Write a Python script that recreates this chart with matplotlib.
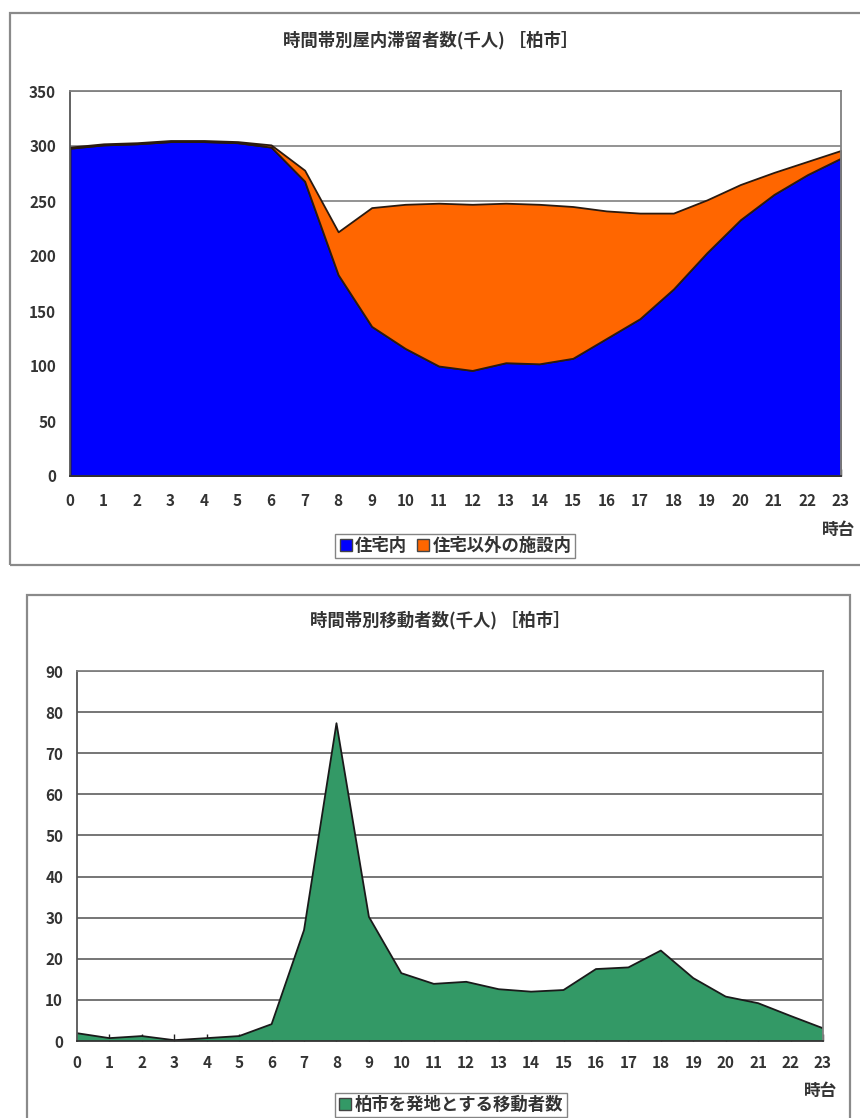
import matplotlib
matplotlib.use("Agg")
import matplotlib.pyplot as plt
from matplotlib.patches import Rectangle
from matplotlib.lines import Line2D

plt.rcParams['font.family'] = ['Noto Sans CJK JP', 'DejaVu Sans']

# ---- data ----
hours = list(range(24))
hour_labels = [str(h) for h in hours]

# indoor population by hour (thousand people)
at_home = [298, 301, 302, 304, 304, 303, 299, 268, 183, 136, 116, 100,
           96, 103, 102, 107, 125, 143, 170, 203, 233, 256, 274, 289]
other_facilities = [1, 1, 1, 1, 1, 1, 2, 10, 39, 108, 131, 148,
                    151, 145, 145, 138, 116, 96, 69, 48, 32, 20, 12, 7]

# people travelling from Kashiwa by hour (thousand people)
travellers = [1.9, 0.7, 1.2, 0.2, 0.7, 1.2, 4.1, 27.0, 77.3, 30.2, 16.5, 13.9,
              14.4, 12.6, 12.0, 12.4, 17.5, 17.9, 22.0, 15.3, 10.8, 9.2, 6.1, 3.1]

title_top = "時間帯別屋内滞留者数(千人) ［柏市］"
title_bottom = "時間帯別移動者数(千人) ［柏市］"
legend_top = ["住宅内", "住宅以外の施設内"]
legend_bottom = ["柏市を発地とする移動者数"]
xunit = "時台"

top_ticks = list(range(0, 351, 50))
bottom_ticks = list(range(0, 91, 10))

# ---- styling ----
W, H = 860, 1118
BLUE = "#0000FF"
ORANGE = "#FF6600"
GREEN = "#339966"
TXT = "#333333"
GRID = "#808080"
TICK_FS = 11
LABEL_FS = 12

fig = plt.figure(figsize=(W / 100, H / 100), dpi=100)
fig.patch.set_facecolor("white")


def px_axes(left, top, right, bottom):
    return fig.add_axes([left / W, 1 - bottom / H, (right - left) / W, (bottom - top) / H])


def panel(left, top, right, bottom):
    fig.patches.append(Rectangle((left / W, 1 - bottom / H), (right - left) / W,
                                 (bottom - top) / H, transform=fig.transFigure,
                                 fill=False, edgecolor="#8a8a8a", lw=1.6, zorder=0))


def style_axes(ax, yticks, xpad):
    ax.set_xlim(0, 23)
    ax.set_ylim(yticks[0], yticks[-1])
    ax.set_xticks(hours)
    ax.set_xticklabels(hour_labels)
    ax.set_yticks(yticks)
    ax.set_axisbelow(True)
    ax.yaxis.grid(True, color=GRID, lw=1.2)
    ax.tick_params(axis="x", direction="in", length=5, width=1, color="#222222",
                   pad=xpad, labelsize=TICK_FS, labelcolor=TXT)
    ax.tick_params(axis="y", length=0, pad=10, labelsize=TICK_FS, labelcolor=TXT)
    for lab in ax.get_xticklabels() + ax.get_yticklabels():
        lab.set_fontweight("bold")
    ax.spines["left"].set_color("#555555")
    ax.spines["bottom"].set_color("#333333")
    ax.spines["top"].set_color(GRID)
    ax.spines["right"].set_color(GRID)
    for s in ax.spines.values():
        s.set_linewidth(1.3)
        s.set_zorder(5)


# ---- top chart ----
panel(10, 13, 875, 565)
ax1 = px_axes(70, 91, 841, 476)
ax1.stackplot(hours, at_home, other_facilities, colors=[BLUE, ORANGE],
              edgecolor="#2a1a10", linewidth=1.3, zorder=2)
style_axes(ax1, top_ticks, 12)
fig.text(431 / W, 1 - 40 / H, title_top, ha="center", va="center",
         fontsize=12.5, fontweight="bold", color=TXT)
fig.text(839 / W, 1 - 530 / H, xunit, ha="center", va="center",
         fontsize=LABEL_FS, fontweight="bold", color=TXT)
h_top = [Line2D([], [], marker="s", ls="", markersize=9, markerfacecolor=c,
                markeredgecolor="#444444") for c in (BLUE, ORANGE)]
leg1 = fig.legend(h_top, legend_top, loc="center", bbox_to_anchor=(455 / W, 1 - 546 / H),
                  ncol=2, frameon=True, fancybox=False, edgecolor="#666666",
                  handlelength=0.8, handletextpad=0.15, columnspacing=0.5,
                  borderpad=0.2, prop={"size": 12.5, "weight": "bold"})
for t in leg1.get_texts():
    t.set_color(TXT)

# ---- bottom chart ----
panel(27, 595, 850, 1130)
ax2 = px_axes(77, 671, 823, 1041)
ax2.fill_between(hours, travellers, 0, color=GREEN, edgecolor="none", zorder=2)
ax2.plot(hours, travellers, color="#1a1a1a", lw=1.3, zorder=3)
style_axes(ax2, bottom_ticks, 10)
ax2.yaxis.grid(True, color="#6a6a6a", lw=1.3)
fig.text(440 / W, 1 - 620 / H, title_bottom, ha="center", va="center",
         fontsize=12.5, fontweight="bold", color=TXT)
fig.text(821 / W, 1 - 1091 / H, xunit, ha="center", va="center",
         fontsize=LABEL_FS, fontweight="bold", color=TXT)
h_bot = [Line2D([], [], marker="s", ls="", markersize=9, markerfacecolor=GREEN,
                markeredgecolor="#444444")]
leg2 = fig.legend(h_bot, legend_bottom, loc="center", bbox_to_anchor=(451 / W, 1 - 1105 / H),
                  frameon=True, fancybox=False, edgecolor="#666666",
                  handlelength=0.8, handletextpad=0.15, borderpad=0.2,
                  prop={"size": 12.5, "weight": "bold"})
for t in leg2.get_texts():
    t.set_color(TXT)

fig.savefig("out.png", dpi=100, facecolor="white")
